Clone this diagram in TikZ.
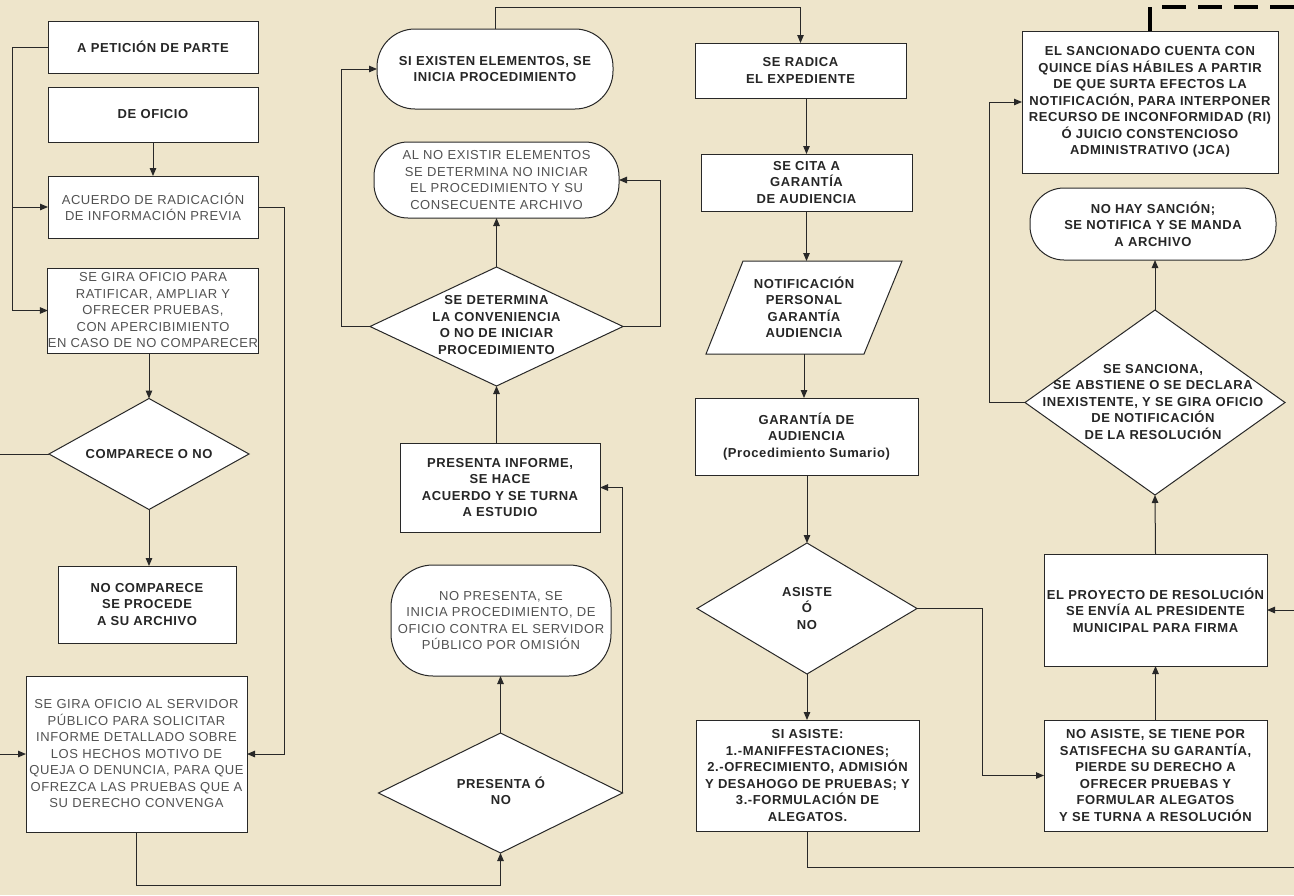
\documentclass[tikz,border=0pt]{standalone}
\usepackage{fontspec}
\setmainfont[LetterSpace=4.5]{Liberation Sans}
\usetikzlibrary{shapes.geometric,arrows.meta}
\definecolor{bg}{RGB}{238,229,203}
\definecolor{ln}{RGB}{40,40,40}
\begin{document}
\begin{tikzpicture}[x=1pt,y=-1pt,
 every node/.style={inner sep=0pt, outer sep=0pt},
 base/.style={draw=ln, fill=white, line width=1pt, align=center},
 box/.style={base, rectangle},
 rbox/.style={base, rectangle, rounded corners=#1},
 dia/.style={base, diamond},
 bt/.style={align=center, font=\fontsize{13}{16.5}\selectfont\bfseries, text=black!85},
 rt/.style={align=center, font=\fontsize{13}{16.5}\selectfont, text=black!68},
 conn/.style={draw=ln, line width=1pt},
 arr/.style={conn, -{Triangle[length=8pt,width=6.5pt]}},
]
\useasboundingbox (0,0) rectangle (1294,895);
\fill[bg] (0,0) rectangle (1294,895);
\clip (0,0) rectangle (1294,895);

% ---------- column 1
\node[box, bt, minimum width=210pt, minimum height=52pt] (n1) at (153,47) {A PETICIÓN DE PARTE};
\node[box, bt, minimum width=210pt, minimum height=55pt] (n2) at (153,114.5) {DE OFICIO};
\node[box, rt, minimum width=210pt, minimum height=62pt] (n3) at (153,207) {ACUERDO DE RADICACIÓN\\DE INFORMACIÓN PREVIA};
\node[box, rt, minimum width=210pt, minimum height=85pt] (n4) at (153,310.5) {SE GIRA OFICIO PARA\\RATIFICAR, AMPLIAR Y\\OFRECER PRUEBAS,\\CON APERCIBIMIENTO\\EN CASO DE NO COMPARECER};
\node[dia, minimum width=200pt, minimum height=111pt] (d1) at (149,454) {};
\node[bt] (d1t) at (d1) {COMPARECE O NO};
\node[box, bt, minimum width=178pt, minimum height=77pt] (n5) at (147,604.5) {NO COMPARECE\\SE PROCEDE\\A SU ARCHIVO};
\node[box, rt, minimum width=221pt, minimum height=156pt] (n6) at (136.5,754) {SE GIRA OFICIO  AL SERVIDOR\\PÚBLICO PARA  SOLICITAR\\INFORME DETALLADO SOBRE\\LOS HECHOS MOTIVO DE\\QUEJA O DENUNCIA, PARA QUE\\OFREZCA LAS PRUEBAS QUE A\\SU DERECHO CONVENGA};

% ---------- column 2
\node[rbox=38pt, bt, minimum width=236pt, minimum height=80pt] (r1) at (495,69) {SI EXISTEN ELEMENTOS, SE\\INICIA PROCEDIMIENTO};
\node[rbox=34pt, rt, minimum width=245pt, minimum height=76pt] (r2) at (496.5,180) {AL NO EXISTIR ELEMENTOS\\SE DETERMINA NO INICIAR\\EL PROCEDIMIENTO Y SU\\CONSECUENTE ARCHIVO};
\node[dia, minimum width=253pt, minimum height=119pt] (d2) at (496.5,326.5) {};
\node[bt] (d2t) at (496.5,325) {SE DETERMINA\\LA CONVENIENCIA\\O NO DE INICIAR\\PROCEDIMIENTO};
\node[box, bt, minimum width=200pt, minimum height=89pt] (n7) at (500,487.5) {PRESENTA INFORME,\\SE HACE\\ACUERDO Y SE TURNA\\A ESTUDIO};
\node[rbox=42pt, rt, minimum width=220pt, minimum height=111pt] (r3) at (501,620.5) {NO PRESENTA,  SE\\INICIA PROCEDIMIENTO, DE\\OFICIO CONTRA EL SERVIDOR\\PÚBLICO POR OMISIÓN};
\node[dia, minimum width=244pt, minimum height=120pt] (d5) at (500.5,793) {};
\node[bt] (d5t) at (501,791) {PRESENTA Ó\\NO};

% ---------- column 3
\node[box, bt, minimum width=211pt, minimum height=55pt] (n8) at (800.5,70.5) {SE RADICA\\EL EXPEDIENTE};
\node[box, bt, minimum width=211pt, minimum height=57pt] (n9) at (806.5,182.5) {SE CITA A\\GARANTÍA\\DE AUDIENCIA};
\draw[base] (743,261) -- (902,261) -- (864,354) -- (706,354) -- cycle;
\node[bt, minimum width=120pt, minimum height=93pt] (p) at (804,307.5) {NOTIFICACIÓN\\PERSONAL\\GARANTÍA\\AUDIENCIA};
\node[box, bt, minimum width=223pt, minimum height=77pt] (n10) at (806.5,436.5) {GARANTÍA DE\\AUDIENCIA\\(Procedimiento Sumario)};
\node[dia, minimum width=220pt, minimum height=131pt] (d3) at (807,608.5) {};
\node[bt] (d3t) at (d3) {ASISTE\\Ó\\NO};
\node[box, bt, minimum width=223pt, minimum height=111pt] (n11) at (807.5,775.5) {SI ASISTE:\\1.-MANIFFESTACIONES;\\2.-OFRECIMIENTO, ADMISIÓN\\Y DESAHOGO  DE PRUEBAS; Y\\3.-FORMULACIÓN DE\\ALEGATOS.};

% ---------- column 4
\node[box, bt, minimum width=256pt, minimum height=142pt] (n14) at (1150,102) {EL SANCIONADO  CUENTA CON\\QUINCE DÍAS HÁBILES A PARTIR\\DE QUE  SURTA EFECTOS LA\\NOTIFICACIÓN, PARA INTERPONER\\RECURSO DE INCONFORMIDAD (RI)\\Ó JUICIO CONSTENCIOSO\\ADMINISTRATIVO (JCA)};
\node[rbox=34pt, bt, minimum width=246pt, minimum height=72pt] (r4) at (1153,224) {NO HAY  SANCIÓN;\\SE NOTIFICA Y SE MANDA\\A ARCHIVO};
\node[dia, minimum width=260pt, minimum height=185pt] (d4) at (1155,402.5) {};
\node[bt] (d4t) at (1153,402) {SE  SANCIONA,\\SE ABSTIENE O SE DECLARA\\INEXISTENTE, Y SE GIRA OFICIO\\DE NOTIFICACIÓN\\DE LA RESOLUCIÓN};
\node[box, bt, minimum width=223pt, minimum height=112pt] (n13) at (1155.5,610) {EL  PROYECTO DE RESOLUCIÓN\\SE ENVÍA AL PRESIDENTE\\MUNICIPAL PARA FIRMA};
\node[box, bt, minimum width=223pt, minimum height=111pt] (n12) at (1155.5,775.5) {NO ASISTE,  SE TIENE POR\\SATISFECHA SU GARANTÍA,\\PIERDE SU DERECHO A\\OFRECER PRUEBAS Y\\FORMULAR ALEGATOS\\Y  SE TURNA A RESOLUCIÓN};

% ---------- free ends
\coordinate (L1) at (12,207);
\coordinate (offL1) at (-10,454);
\coordinate (offL2) at (-10,754);
\coordinate (offR) at (1310,867);
\coordinate (offD) at (1310,7);

% ---------- connectors column 1
\draw[arr] (n1.west) -- (12,47) |- (n4.west);
\draw[arr] (L1) -- (n3.west);
\draw[arr] (n2.south) -- (n3.north);
\draw[arr] (d1.north |- n4.south) -- (d1.north);
\draw[arr] (d1.south) -- (d1.south |- n5.north);
\draw[conn] (d1.west) -- (offL1);
\draw[arr] (offL2) -- (n6.west);
\draw[arr] (n3.east) -- ++(26,0) |- (n6.east);
\draw[arr] (n6.south) -- ++(0,53) -| (d5.south);

% ---------- connectors column 2
\draw[arr] (d5.north) -- (d5.north |- r3.south);
\draw[arr] (d5.east) |- (n7.east);
\draw[arr] (d2.south |- n7.north) -- (d2.south);
\draw[arr] (d2.north) -- (r2.south);
\draw[arr] (d2.west) -- ++(-29,0) |- (r1.west);
\draw[arr] (d2.east) -- ++(37,0) |- (r2.east);
\draw[arr] (r1.north) -- ++(0,-22) -| (n8.north);

% ---------- connectors column 3
\draw[arr] (n9.north |- n8.south) -- (n9.north);
\draw[arr] (n9.south) -- (n9.south |- p.north);
\draw[arr] (p.south) -- (p.south |- n10.north);
\draw[arr] (d3.north |- n10.south) -- (d3.north);
\draw[arr] (d3.south) -- (d3.south |- n11.north);
\draw[arr] (d3.east) -- ++(65,0) |- (n12.west);
\draw[arr] (n11.south) |- (offR) |- (n13.east);

% ---------- connectors column 4
\draw[arr] (n12.north) -- (n13.south);
\draw[arr] (n13.north) -- (d4.south);
\draw[arr] (d4.north) -- (d4.north |- r4.south);
\draw[arr] (d4.west) -- ++(-36,0) |- (n14.west);
\draw[draw=black, line width=4pt, dash pattern=on 24pt off 12pt] (n14.north) |- (offD);
\end{tikzpicture}
\end{document}
